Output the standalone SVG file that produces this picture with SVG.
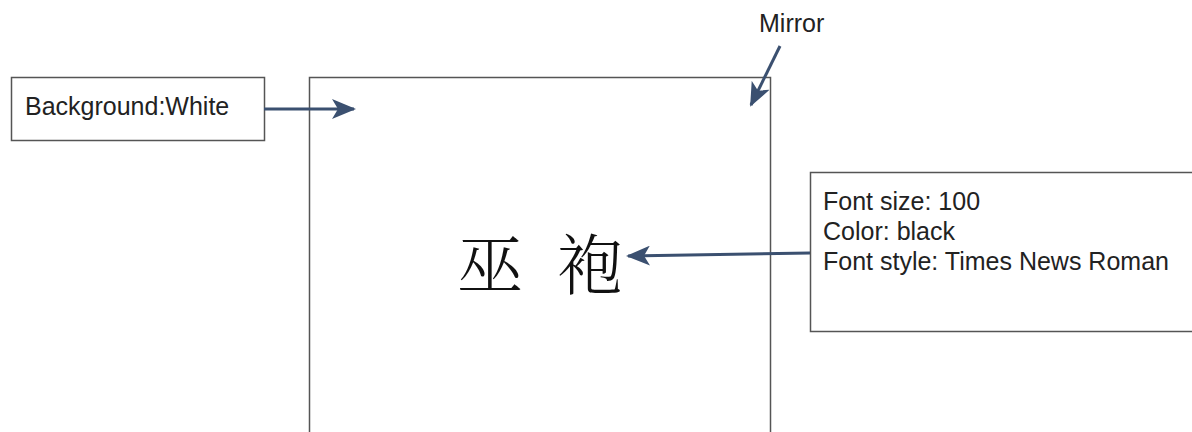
<svg xmlns="http://www.w3.org/2000/svg" width="1192" height="432" viewBox="0 0 1192 432">
<style>
.box{fill:#fff;stroke:#555;stroke-width:1.5}
.lbl{font-family:"Liberation Sans",Arial,sans-serif;font-size:25px;fill:#222}
.conn{stroke:#3b5070;stroke-width:3;fill:none}
.cjk{font-family:"Noto Serif CJK SC","Noto Sans CJK SC",serif;font-size:66px;fill:#111;font-weight:300}
</style>
<defs>
<marker id="a" viewBox="0 0 24 20" refX="22" refY="10" markerWidth="24" markerHeight="20" markerUnits="userSpaceOnUse" orient="auto">
<path d="M0,0 L24,10 L0,20 L6,10 Z" fill="#3b5070"/>
</marker>
</defs>
<g id="mirror">
<rect class="box" x="309.5" y="77.5" width="461" height="370"/>
<text class="cjk" x="457" y="289">巫</text>
<text class="cjk" x="557" y="289">袍</text>
</g>
<g id="background">
<rect class="box" x="11.5" y="77.5" width="253" height="63"/>
<text class="lbl" x="25" y="115">Background:White</text>
</g>
<g id="mirror-label">
<text class="lbl" x="759" y="32">Mirror</text>
</g>
<g id="font-info">
<rect class="box" x="810.5" y="172.5" width="390" height="159"/>
<text class="lbl" x="823" y="210">Font size: 100</text>
<text class="lbl" x="823" y="240">Color: black</text>
<text class="lbl" x="823" y="270">Font style: Times News Roman</text>
</g>
<g id="connectors">
<line class="conn" x1="264" y1="109" x2="354" y2="109" marker-end="url(#a)"/>
<line class="conn" x1="780" y1="46" x2="751" y2="105" marker-end="url(#a)"/>
<line class="conn" x1="810" y1="253" x2="628" y2="256" marker-end="url(#a)"/>
</g>
</svg>
